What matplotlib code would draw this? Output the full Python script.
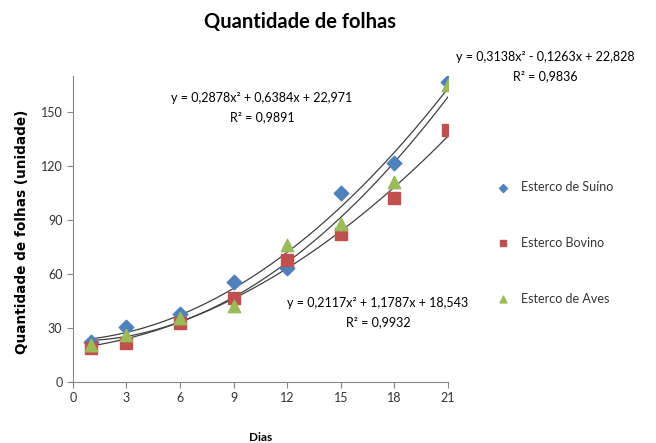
import numpy as np
import matplotlib
matplotlib.use("Agg")
import matplotlib.pyplot as plt

dias = [1, 3, 6, 9, 12, 15, 18, 21]
suino = [22.4, 30.5, 38.0, 55.7, 63.5, 105.2, 121.8, 166.5]
bovino = [18.7, 21.8, 33.0, 46.5, 67.8, 82.0, 102.0, 140.0]
aves = [20.6, 26.0, 35.4, 42.0, 76.0, 88.0, 111.0, 165.0]

coef_suino = [0.3138, -0.1263, 22.828]
coef_bovino = [0.2117, 1.1787, 18.543]
coef_aves = [0.2878, 0.6384, 22.971]

xticks = [0, 3, 6, 9, 12, 15, 18, 21]
yticks = [0, 30, 60, 90, 120, 150]

plt.rcParams['font.family'] = ['Lato', 'DejaVu Sans']

fig = plt.figure(figsize=(6.56, 4.43), dpi=100)
ax = fig.add_axes([0.111, 0.138, 0.572, 0.69])

xx = np.linspace(1, 21, 200)
for c in (coef_suino, coef_bovino, coef_aves):
    ax.plot(xx, np.polyval(c, xx), color='#404040', lw=0.9, zorder=2)

ax.scatter(dias, suino, marker='D', s=55, color='#4F81BD', zorder=3, label='Esterco de Suíno')
ax.scatter(dias, bovino, marker='s', s=75, color='#C0504D', zorder=3, label='Esterco Bovino')
ax.scatter(dias, aves, marker='^', s=80, color='#9BBB59', zorder=4, label='Esterco de Aves')

ax.set_xlim(0, 21)
ax.set_ylim(0, 170)
ax.set_xticks(xticks)
ax.set_yticks(yticks)
ax.tick_params(labelsize=9, length=4, color='#868686', direction='out', labelcolor='#333333')
for s in ('top', 'right'):
    ax.spines[s].set_visible(False)
for s in ('left', 'bottom'):
    ax.spines[s].set_color('#868686')

ax.set_xlabel('Dias', fontsize=8.5, fontweight='bold', labelpad=20)
fig.text(22/656, 1-232/443, 'Quantidade de folhas (unidade)', fontsize=9.8,
         fontweight='bold', family='DejaVu Sans', rotation=90, ha='center', va='center')
fig.text(0.458, 0.95, 'Quantidade de folhas', fontsize=14.5, fontweight='bold', ha='center', va='center')

fs = 9
fig.text(262/656, 1-98/443, 'y = 0,2878x² + 0,6384x + 22,971', fontsize=fs, ha='center', va='center')
fig.text(262/656, 1-117/443, 'R² = 0,9891', fontsize=fs, ha='center', va='center')
fig.text(545/656, 1-57/443, 'y = 0,3138x² - 0,1263x + 22,828', fontsize=fs, ha='center', va='center')
fig.text(545/656, 1-76/443, 'R² = 0,9836', fontsize=fs, ha='center', va='center')
fig.text(378/656, 1-303/443, 'y = 0,2117x² + 1,1787x + 18,543', fontsize=fs, ha='center', va='center')
fig.text(378/656, 1-322/443, 'R² = 0,9932', fontsize=fs, ha='center', va='center')

leg = fig.legend(loc='center left', bbox_to_anchor=(0.73, 0.452), frameon=False,
                 fontsize=9, labelspacing=3.5, handletextpad=0.5, scatterpoints=1,
                 markerscale=0.55, labelcolor='#333333')

fig.savefig('out.png', dpi=100)
